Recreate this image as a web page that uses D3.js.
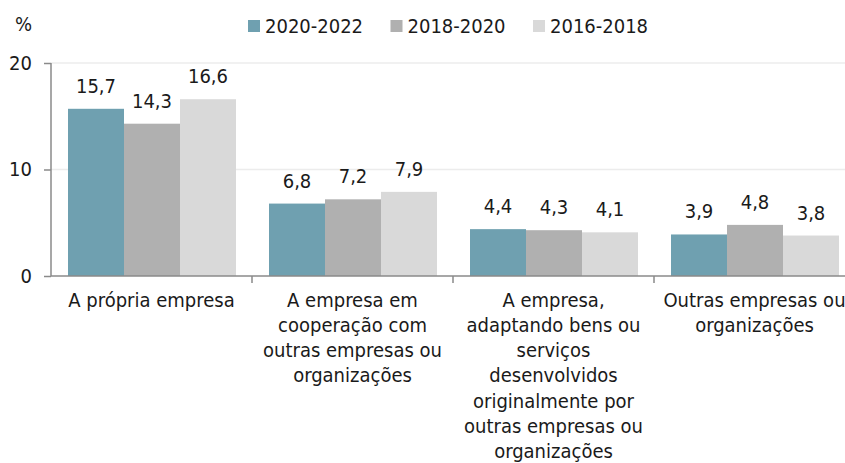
<!DOCTYPE html>
<html>
<head>
<meta charset="utf-8">
<script src="https://cdn.jsdelivr.net/npm/d3@7"></script>
<style>
  body { margin: 0; background: #fff; }
  text { font-family: "DejaVu Sans Condensed", "DejaVu Sans", Verdana, sans-serif; font-stretch: condensed; fill: #1a1a1a; }
</style>
</head>
<body>
<svg class="barsvg" width="845" height="463"></svg>
<script>
var categories = [
    ["A própria empresa"],
    ["A empresa em", "cooperação com", "outras empresas ou", "organizações"],
    ["A empresa,", "adaptando bens ou", "serviços", "desenvolvidos", "originalmente por", "outras empresas ou", "organizações"],
    ["Outras empresas ou", "organizações"]
];
var seriesNames = ["2020-2022", "2018-2020", "2016-2018"];
var values2020_2022 = [15.7, 6.8, 4.4, 3.9];
var values2018_2020 = [14.3, 7.2, 4.3, 4.8];
var values2016_2018 = [16.6, 7.9, 4.1, 3.8];
var yTicks = [0, 10, 20];
var colors = ["#6fa0b0", "#b0b0b0", "#d9d9d9"];

var series = [values2020_2022, values2018_2020, values2016_2018];
var catIdx = categories.map(function(d, i) { return i; });

var svg = d3.select(".barsvg");
var axisColor = "#8a8a8a";
var fontSize = "20px";

var xScale = d3.scaleBand().domain(catIdx).range([51, 855]).padding(0);
var xSub = d3.scaleBand().domain([0, 1, 2]).range([17, xScale.bandwidth() - 16]).padding(0);
var yScale = d3.scaleLinear().domain([0, 20]).range([276, 63]);

// gridlines
svg.append("g")
    .selectAll("line")
    .data(yTicks.filter(function(d) { return d > 0; }))
    .enter().append("line")
    .attr("x1", 51)
    .attr("x2", 845)
    .attr("y1", function(d) { return yScale(d); })
    .attr("y2", function(d) { return yScale(d); })
    .attr("stroke", "#ececec")
    .attr("stroke-width", 1.5);

// bars
var groups = svg.append("g")
    .selectAll("g")
    .data(catIdx)
    .enter().append("g")
    .attr("transform", function(d) { return "translate(" + xScale(d) + ",0)"; });

groups.selectAll("rect")
    .data(function(c) { return series.map(function(s, i) { return { s: i, v: s[c] }; }); })
    .enter().append("rect")
    .attr("x", function(d) { return xSub(d.s); })
    .attr("y", function(d) { return yScale(d.v); })
    .attr("width", xSub.bandwidth())
    .attr("height", function(d) { return yScale(0) - yScale(d.v); })
    .attr("fill", function(d) { return colors[d.s]; });

groups.selectAll("text.val")
    .data(function(c) { return series.map(function(s, i) { return { s: i, v: s[c] }; }); })
    .enter().append("text")
    .attr("class", "val")
    .attr("x", function(d) { return xSub(d.s) + xSub.bandwidth() / 2; })
    .attr("y", function(d) { return yScale(d.v) - 16; })
    .attr("text-anchor", "middle")
    .attr("font-size", fontSize)
    .text(function(d) { return d.v.toFixed(1).replace(".", ","); });

// y axis
var yAxis = svg.append("g")
    .attr("transform", "translate(51,0)")
    .call(d3.axisLeft(yScale).tickValues(yTicks).tickSize(7).tickPadding(12).tickFormat(function(d) { return d; }));
yAxis.select(".domain").attr("d", "M0," + yScale(20) + "V" + yScale(0));
yAxis.selectAll("line, path").attr("stroke", axisColor).attr("stroke-width", 1.5);
yAxis.selectAll("text")
    .attr("font-size", fontSize)
    .attr("font-family", null)
    .attr("fill", "#1a1a1a");

// x axis
svg.append("line")
    .attr("x1", 51)
    .attr("x2", 845)
    .attr("y1", yScale(0))
    .attr("y2", yScale(0))
    .attr("stroke", axisColor)
    .attr("stroke-width", 1.5);

svg.append("g")
    .selectAll("line")
    .data(catIdx.slice(1))
    .enter().append("line")
    .attr("x1", function(d) { return xScale(d); })
    .attr("x2", function(d) { return xScale(d); })
    .attr("y1", yScale(0))
    .attr("y2", yScale(0) + 7)
    .attr("stroke", axisColor)
    .attr("stroke-width", 1.5);

var catLabels = svg.append("g")
    .selectAll("text")
    .data(catIdx)
    .enter().append("text")
    .attr("x", function(d) { return xScale(d) + xScale.bandwidth() / 2; })
    .attr("y", 306.5)
    .attr("text-anchor", "middle")
    .attr("font-size", fontSize);

catLabels.selectAll("tspan")
    .data(function(d) { return categories[d]; })
    .enter().append("tspan")
    .attr("x", function() { return d3.select(this.parentNode).attr("x"); })
    .attr("dy", function(d, i) { return i === 0 ? 0 : 25.3; })
    .text(function(d) { return d; });

// unit
svg.append("text")
    .attr("x", 15)
    .attr("y", 31)
    .attr("font-size", fontSize)
    .text("%");

// legend
var legend = svg.append("g")
    .selectAll("g")
    .data(seriesNames)
    .enter().append("g")
    .attr("transform", function(d, i) { return "translate(" + (248 + i * 142.5) + ",0)"; });

legend.append("rect")
    .attr("x", 0)
    .attr("y", 20)
    .attr("width", 12)
    .attr("height", 12)
    .attr("fill", function(d, i) { return colors[i]; });

legend.append("text")
    .attr("x", 17)
    .attr("y", 33)
    .attr("font-size", fontSize)
    .text(function(d) { return d; });
</script>
</body>
</html>
